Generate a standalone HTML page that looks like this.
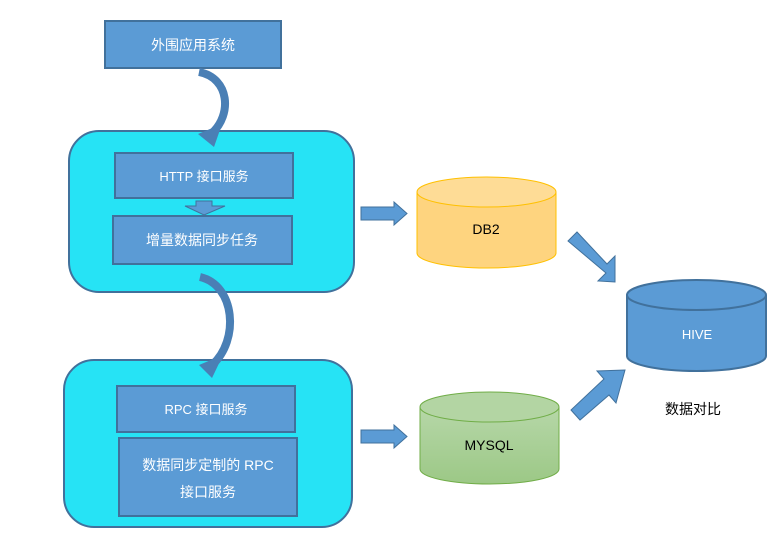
<!DOCTYPE html>
<html><head><meta charset="utf-8"><style>
html,body{margin:0;padding:0;background:#fff;}
svg{display:block;}
text{font-family:"Liberation Sans","Noto Sans CJK SC",sans-serif;}
</style></head><body>
<svg width="778" height="541" viewBox="0 0 778 541" xmlns="http://www.w3.org/2000/svg">
<!-- top box -->
<rect x="105" y="21" width="176" height="47" fill="#5b9bd5" stroke="#41719c" stroke-width="2"/>
<text x="193" y="50" fill="#fff" font-size="14" text-anchor="middle">外围应用系统</text>
<!-- container 1 -->
<rect x="69" y="131" width="285" height="161" rx="30" fill="#26e3f5" stroke="#41719c" stroke-width="2"/>
<rect x="115" y="153" width="178" height="45" fill="#5b9bd5" stroke="#41719c" stroke-width="2"/>
<text x="204" y="181" fill="#fff" font-size="13" text-anchor="middle">HTTP 接口服务</text>
<polygon points="196,201 212,201 212,206 225,206 204,215 185,206 196,206" fill="#5b9bd5" stroke="#41719c" stroke-width="1"/>
<rect x="113" y="216" width="179" height="48" fill="#5b9bd5" stroke="#41719c" stroke-width="2"/>
<text x="202" y="245" fill="#fff" font-size="14" text-anchor="middle">增量数据同步任务</text>
<!-- container 2 -->
<rect x="64" y="360" width="288" height="167" rx="30" fill="#26e3f5" stroke="#41719c" stroke-width="2"/>
<rect x="117" y="386" width="178" height="46" fill="#5b9bd5" stroke="#41719c" stroke-width="2"/>
<text x="206" y="414" fill="#fff" font-size="13" text-anchor="middle">RPC 接口服务</text>
<rect x="119" y="438" width="178" height="78" fill="#5b9bd5" stroke="#41719c" stroke-width="2"/>
<text x="208" y="470" fill="#fff" font-size="14" text-anchor="middle">数据同步定制的 RPC</text>
<text x="208" y="497" fill="#fff" font-size="14" text-anchor="middle">接口服务</text>
<!-- curved arrow 1 -->
<path d="M199,72 C230,78 232,115 212,133" fill="none" stroke="#4a7fb5" stroke-width="8"/>
<polygon points="198,134 222,124 214,147" fill="#4a7fb5"/>
<!-- curved arrow 2 -->
<path d="M200,277 C235,285 240,340 212,365" fill="none" stroke="#4a7fb5" stroke-width="8"/>
<polygon points="199,365 223,355 212,378" fill="#4a7fb5"/>
<!-- right arrows -->
<polygon points="361,207 394,207 394,202 407,213.5 394,225 394,220 361,220" fill="#5b9bd5" stroke="#41719c" stroke-width="1"/>
<polygon points="361,430 394,430 394,425 407,436.5 394,448 394,443 361,443" fill="#5b9bd5" stroke="#41719c" stroke-width="1"/>
<!-- DB2 -->
<path d="M417,192 L417,253 A69.5,15 0 0 0 556,253 L556,192" fill="#fed47f" stroke="#ffc000" stroke-width="1"/>
<ellipse cx="486.5" cy="192" rx="69.5" ry="15" fill="#fedc96" stroke="#ffc000" stroke-width="1"/>
<text x="486" y="234" fill="#000" font-size="14" text-anchor="middle">DB2</text>
<!-- MYSQL -->
<defs><linearGradient id="g" x1="0" y1="0" x2="0" y2="1"><stop offset="0" stop-color="#b6d7a8"/><stop offset="1" stop-color="#9cc886"/></linearGradient></defs>
<path d="M420,407 L420,469 A69.5,15 0 0 0 559,469 L559,407" fill="url(#g)" stroke="#70ad47" stroke-width="1"/>
<ellipse cx="489.5" cy="407" rx="69.5" ry="15" fill="#b3d5a3" stroke="#70ad47" stroke-width="1"/>
<text x="489" y="450" fill="#000" font-size="14" text-anchor="middle">MYSQL</text>
<!-- HIVE -->
<path d="M627,295 L627,356 A69.5,15 0 0 0 766,356 L766,295" fill="#5b9bd5" stroke="#41719c" stroke-width="2"/>
<ellipse cx="696.5" cy="295" rx="69.5" ry="15" fill="#5b9bd5" stroke="#41719c" stroke-width="2"/>
<text x="697" y="339" fill="#fff" font-size="13" text-anchor="middle">HIVE</text>
<!-- diagonal arrows -->
<polygon points="568,241 577,232 607,264 615,256 615,282 598,281 606,273" fill="#5b9bd5" stroke="#41719c" stroke-width="1"/>
<polygon points="571,410 580,420 609,395 616,403 625,370 597,371 604,379" fill="#5b9bd5" stroke="#41719c" stroke-width="1"/>
<text x="693" y="414" fill="#000" font-size="14" text-anchor="middle">数据对比</text>
</svg>
</body></html>
